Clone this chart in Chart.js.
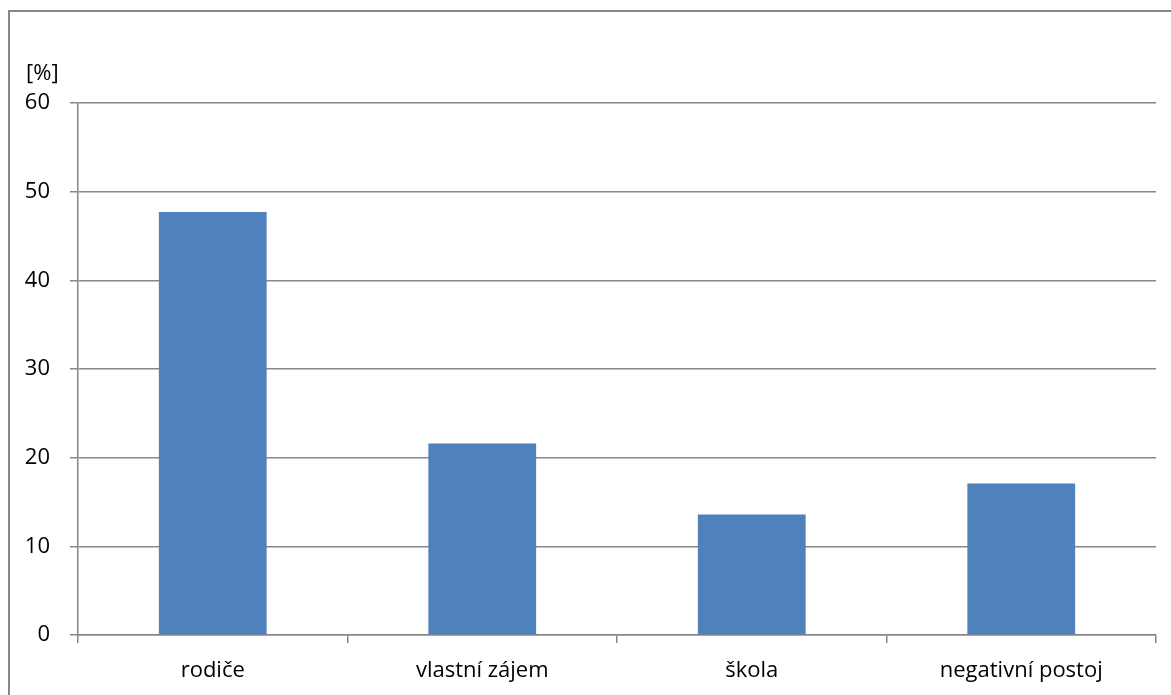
<!DOCTYPE html>
<html>
<head>
<meta charset="utf-8">
<script src="https://cdn.jsdelivr.net/npm/chart.js@4"></script>
<style>
  html, body { margin: 0; padding: 0; background: #fff; overflow: hidden; }
  #frame { position: absolute; left: 8px; top: 10px; width: 1200px; height: 720px; border: 2px solid #878787; box-sizing: border-box; }
  #wrap { position: absolute; left: 0; top: 0; width: 1171px; height: 695px; }
</style>
</head>
<body>
<div id="frame"></div>
<div id="wrap"><canvas id="chart"></canvas></div>
<script>
const categories = ['rodiče', 'vlastní zájem', 'škola', 'negativní postoj'];
const values = [47.7, 21.6, 13.6, 17.1];
const yTicks = [0, 10, 20, 30, 40, 50, 60];

const FONT = "'Open Sans', sans-serif";
const SIZE = 22;
const GRID = '#878787';

// "[%]" unit label above the y axis
const unitLabel = {
  id: 'unitLabel',
  afterDraw(chart) {
    const ctx = chart.ctx;
    ctx.save();
    ctx.font = SIZE + "px " + FONT;
    ctx.fillStyle = '#000';
    ctx.textBaseline = 'middle';
    ctx.textAlign = 'left';
    ctx.fillText('[%]', 26, 74);
    ctx.restore();
  }
};

new Chart(document.getElementById('chart').getContext('2d'), {
  type: 'bar',
  data: {
    labels: categories,
    datasets: [{
      data: values,
      backgroundColor: '#4f81bd',
      borderWidth: 0,
      categoryPercentage: 1,
      barPercentage: 0.4
    }]
  },
  options: {
    responsive: true,
    maintainAspectRatio: false,
    animation: false,
    layout: { padding: { left: 0, right: 15, top: 103, bottom: 0 } },
    plugins: { legend: { display: false }, tooltip: { enabled: false } },
    scales: {
      x: {
        grid: { offset: true, drawOnChartArea: false, color: GRID, lineWidth: 1.5, tickLength: 8 },
        border: { color: GRID, width: 1.5 },
        ticks: { color: '#000', font: { family: FONT, size: SIZE }, padding: 15 },
        afterFit(s) { s.height = 60; }
      },
      y: {
        min: 0,
        max: 60,
        afterBuildTicks(s) { s.ticks = yTicks.map(v => ({ value: v })); },
        grid: { color: GRID, lineWidth: 1.5, tickLength: 8 },
        border: { color: GRID, width: 1.5 },
        ticks: { color: '#000', font: { family: FONT, size: SIZE }, padding: 20 },
        afterFit(s) { s.width = 78; }
      }
    }
  },
  plugins: [unitLabel]
});
</script>
</body>
</html>
